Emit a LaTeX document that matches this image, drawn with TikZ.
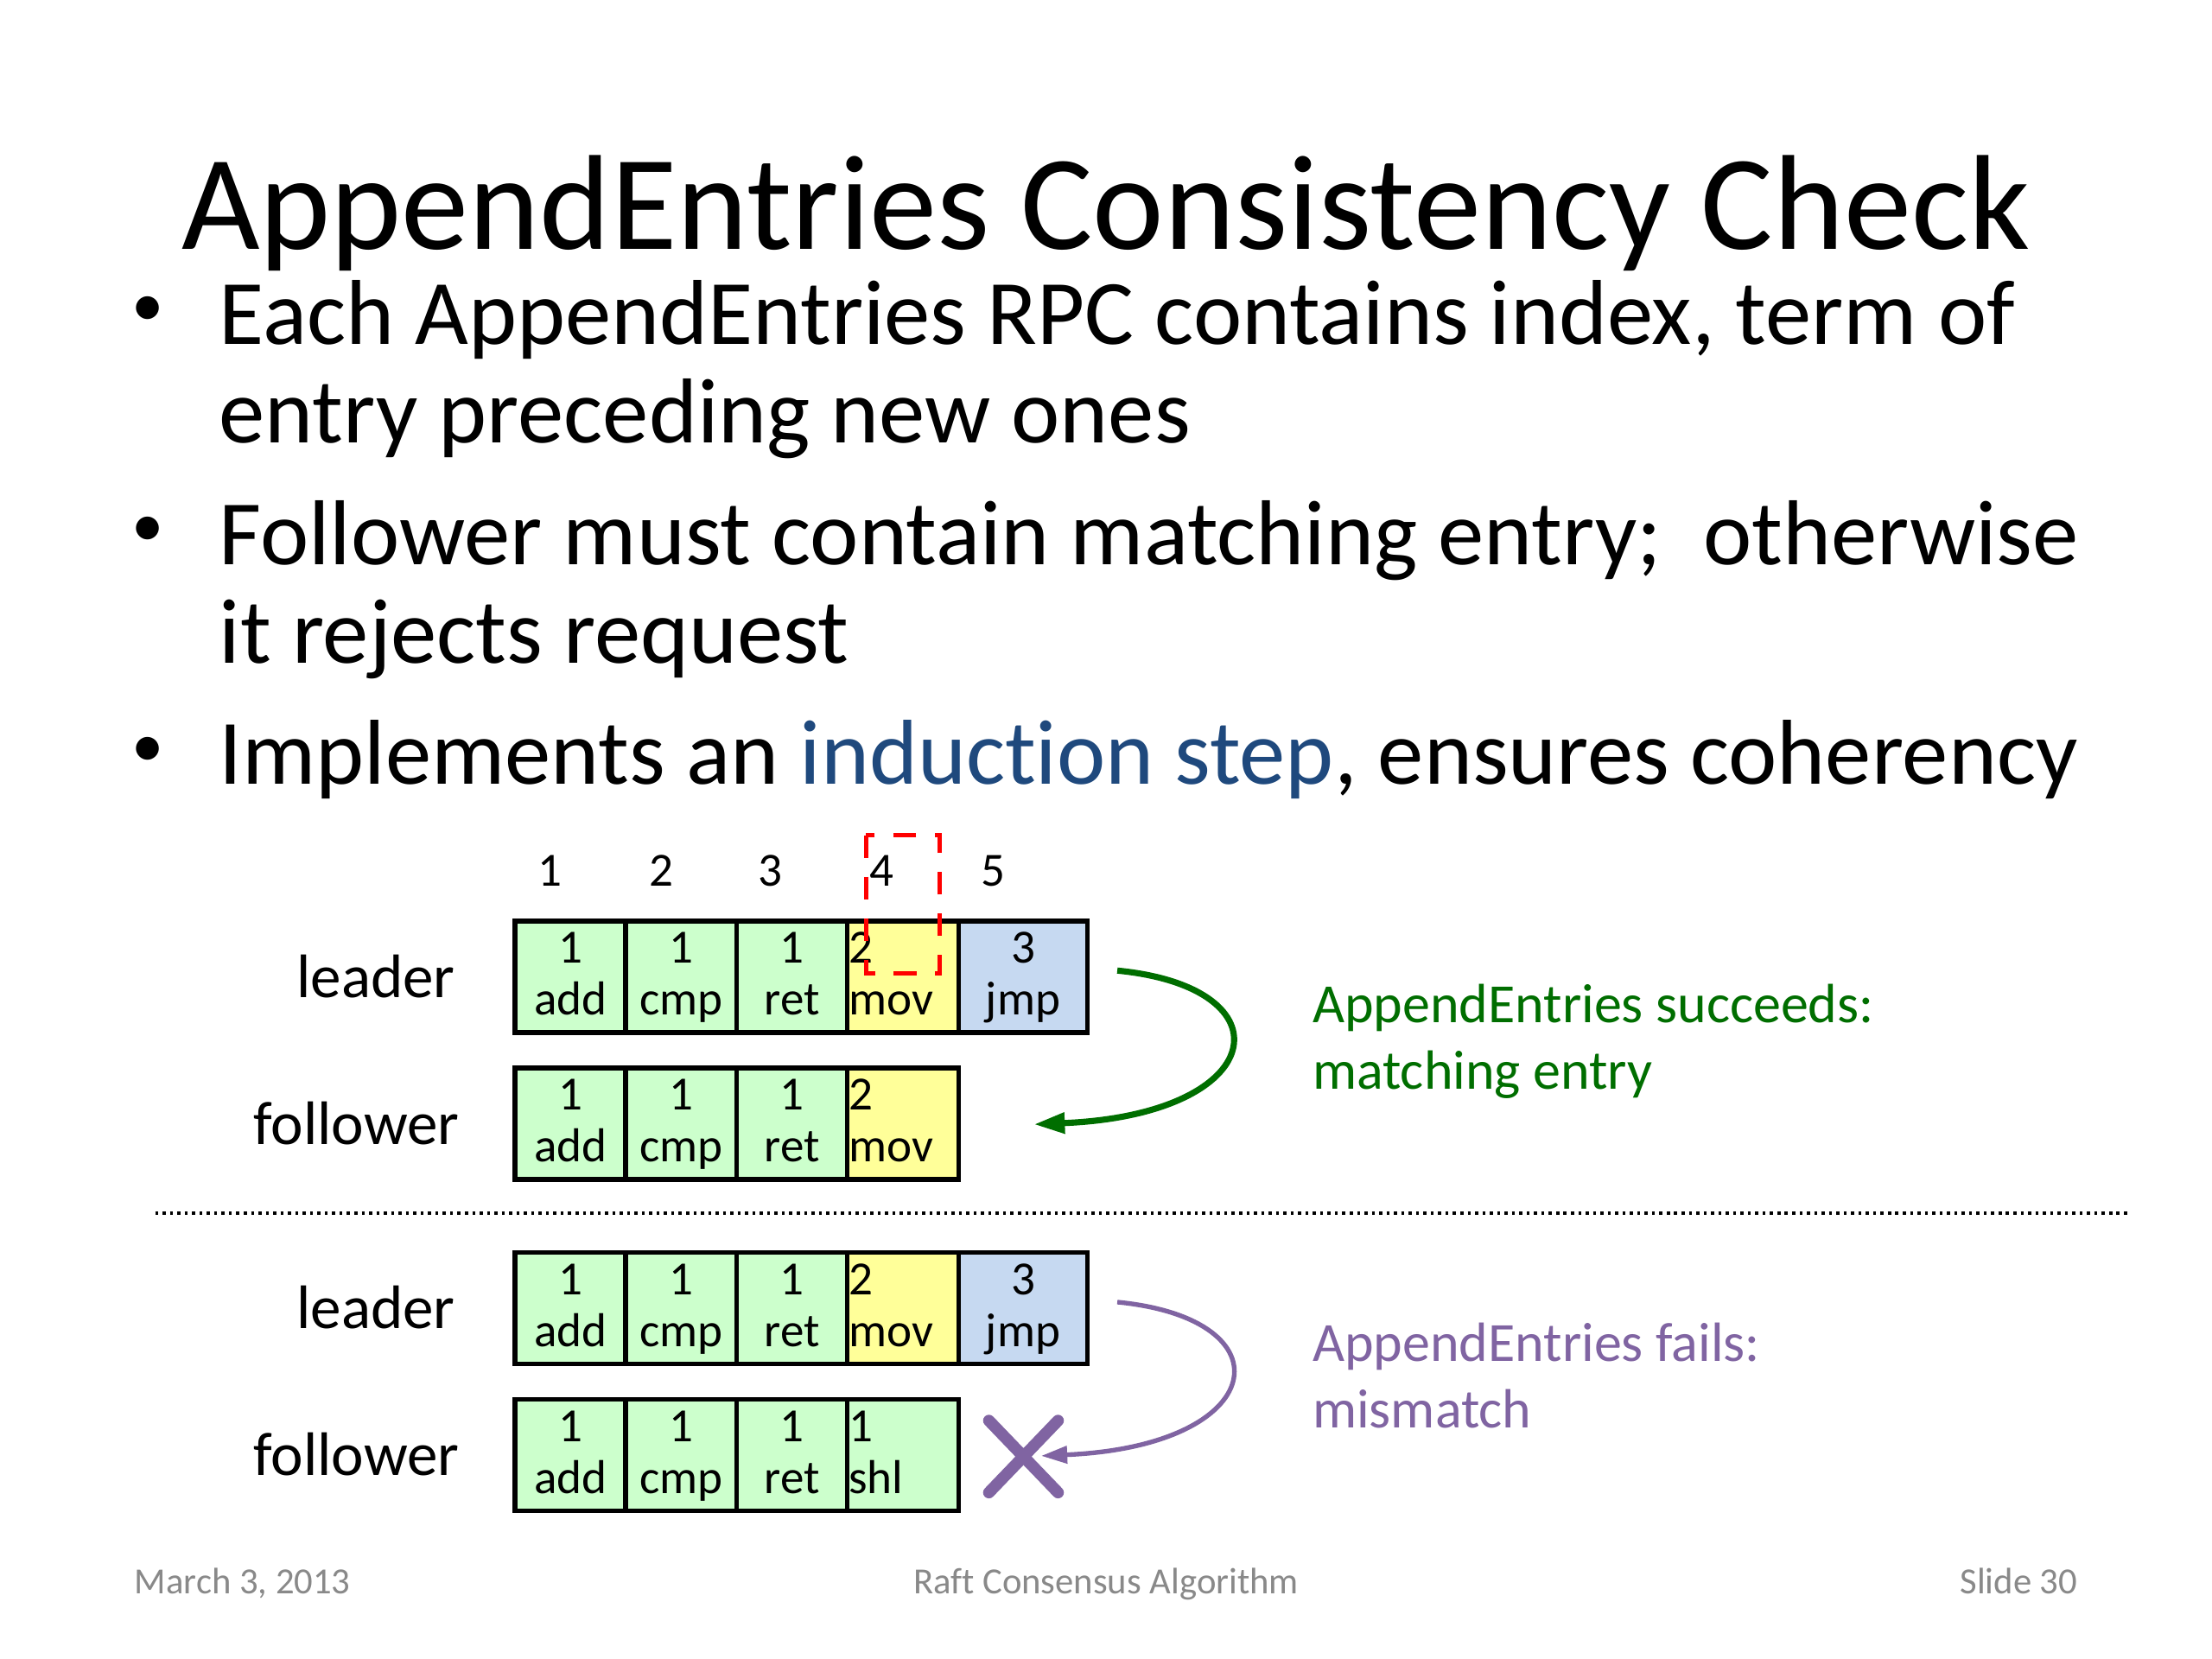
\documentclass[tikz,border=0pt]{standalone}
\usepackage{fontspec}
\setmainfont{Carlito}[Ligatures=NoCommon]
\usetikzlibrary{arrows.meta}
\definecolor{cgreen}{HTML}{CCFFCC}
\definecolor{cyellow}{HTML}{FFFF99}
\definecolor{cblue}{HTML}{C6D9F1}
\definecolor{okgreen}{RGB}{0,110,0}
\definecolor{failpurple}{HTML}{8064A2}
\definecolor{indblue}{HTML}{1F497D}
\definecolor{footgray}{HTML}{898989}
\newcommand{\celltext}[2]{\rule{0pt}{13pt}#1\\\strut #2}
\begin{document}
\begin{tikzpicture}[x=0.45918pt,y=-0.45918pt,
  titletext/.style={font=\fontsize{44}{52}\selectfont, anchor=base, inner sep=0pt},
  bodytext/.style={font=\fontsize{30}{36}\selectfont, anchor=base west, inner sep=0pt},
  bulletmark/.style={font=\fontsize{21}{25}\selectfont, anchor=center, inner sep=0pt},
  rowlabel/.style={font=\fontsize{20}{24}\selectfont, anchor=base east, inner sep=0pt},
  idxtext/.style={font=\fontsize{15.5}{16.8}\selectfont, anchor=base, inner sep=0pt},
  cell/.style={draw=black, line width=1.5pt, minimum width=36.16pt, minimum height=36.27pt,
    inner sep=0pt, align=center, font=\fontsize{15.5}{16.8}\selectfont},
  widecell/.style={minimum width=42.06pt},
  leftcell/.style={text width=35.16pt, inner xsep=0.5pt, align=left},
  g/.style={fill=cgreen}, yl/.style={fill=cyellow}, bl/.style={fill=cblue},
  notetext/.style={font=\fontsize{18}{21.6}\selectfont, anchor=base west, inner sep=0pt},
  foot/.style={font=\fontsize{12}{14}\selectfont, text=footgray, inner sep=0pt},
]
\fill[white] (0,0) rectangle (1568,1176);
\useasboundingbox (0,0) rectangle (1568,1176);

% title
\node[titletext] (title) at (784,177) {AppendEntries Consistency Check};

% bullets
\node[bulletmark] (b1) at (105,221) {•};
\node[bodytext] (t1) at (155,244) {Each AppendEntries RPC contains index, term of};
\node[bodytext] (t2) at (155,314) {entry preceding new ones};
\node[bulletmark] (b2) at (105,377) {•};
\node[bodytext] (t3) at (155,400) {Follower must contain matching entry;\ \ otherwise};
\node[bodytext] (t4) at (155,470) {it rejects request};
\node[bulletmark] (b3) at (105,533) {•};
\node[bodytext] (t5) at (155,556) {Implements an \textcolor{indblue}{induction step}, ensures coherency};

% indices
\node[idxtext] (i1) at (390,628) {1};
\node[idxtext] (i2) at (469,628) {2};
\node[idxtext] (i3) at (546,628) {3};
\node[idxtext] (i4) at (625,628) {4};
\node[idxtext] (i5) at (704,628) {5};

% row labels
\node[rowlabel] (lab1) at (323,707) {leader};
\node[rowlabel] (lab2) at (326,811) {follower};
\node[rowlabel] (lab3) at (323,942) {leader};
\node[rowlabel] (lab4) at (326,1046) {follower};

% top leader row
\node[cell,g] (L1a) at (404.4,692.5) {\celltext{1}{add}};
\node[cell,g] (L1b) at (482.9,692.5) {\celltext{1}{cmp}};
\node[cell,g] (L1c) at (561.4,692.5) {\celltext{1}{ret}};
\node[cell,yl,leftcell] (L1d) at (640,692.5) {\celltext{2}{mov}};
\node[cell,bl,widecell] (L1e) at (725.2,692.5) {\celltext{3}{jmp}};
% top follower row
\node[cell,g] (F1a) at (404.4,796.5) {\celltext{1}{add}};
\node[cell,g] (F1b) at (482.9,796.5) {\celltext{1}{cmp}};
\node[cell,g] (F1c) at (561.4,796.5) {\celltext{1}{ret}};
\node[cell,yl,leftcell] (F1d) at (640,796.5) {\celltext{2}{mov}};
% bottom leader row
\node[cell,g] (L2a) at (404.4,927.5) {\celltext{1}{add}};
\node[cell,g] (L2b) at (482.9,927.5) {\celltext{1}{cmp}};
\node[cell,g] (L2c) at (561.4,927.5) {\celltext{1}{ret}};
\node[cell,yl,leftcell] (L2d) at (640,927.5) {\celltext{2}{mov}};
\node[cell,bl,widecell] (L2e) at (725.2,927.5) {\celltext{3}{jmp}};
% bottom follower row
\node[cell,g] (F2a) at (404.4,1031.5) {\celltext{1}{add}};
\node[cell,g] (F2b) at (482.9,1031.5) {\celltext{1}{cmp}};
\node[cell,g] (F2c) at (561.4,1031.5) {\celltext{1}{ret}};
\node[cell,g,leftcell] (F2d) at (640,1031.5) {\celltext{1}{shl}};

% red dashed highlight
\draw[red, line width=1.5pt, dash pattern=on 7.5pt off 6pt] (614,592) rectangle (666,690);

% dotted separator
\coordinate (sepL) at (110,860);
\coordinate (sepR) at (1510,860);
\draw[line width=1pt, dash pattern=on 1pt off 1.4pt] (sepL) -- (sepR);

% success arrow
\coordinate (gs) at (792,688);
\coordinate (ge) at (733,797);
\draw[okgreen, line width=2pt, -{Triangle[length=10pt,width=6.5pt]}]
  (gs) .. controls (915,700) and (900,790) .. (ge);
\node[notetext, text=okgreen] (n1) at (930,725) {AppendEntries succeeds:};
\node[notetext, text=okgreen] (n2) at (930,772) {matching entry};

% failure arrow
\coordinate (ps) at (792,923);
\coordinate (pe) at (738,1032);
\draw[failpurple, line width=1.5pt, -{Triangle[length=8.5pt,width=5.5pt]}]
  (ps) .. controls (915,935) and (900,1025) .. (pe);
\coordinate (x1) at (701,1007);
\coordinate (x2) at (750,1058);
\coordinate (x3) at (750,1007);
\coordinate (x4) at (701,1058);
\draw[failpurple, line width=3.8pt, line cap=round] (x1) -- (x2) (x3) -- (x4);
\node[notetext, text=failpurple] (n3) at (930,965) {AppendEntries fails:};
\node[notetext, text=failpurple] (n4) at (930,1012) {mismatch};

% footer
\node[foot, anchor=base west] (f1) at (95,1130) {March 3, 2013};
\node[foot, anchor=base] (f2) at (784,1130) {Raft Consensus Algorithm};
\node[foot, anchor=base east] (f3) at (1473,1130) {Slide 30};
\end{tikzpicture}
\end{document}
